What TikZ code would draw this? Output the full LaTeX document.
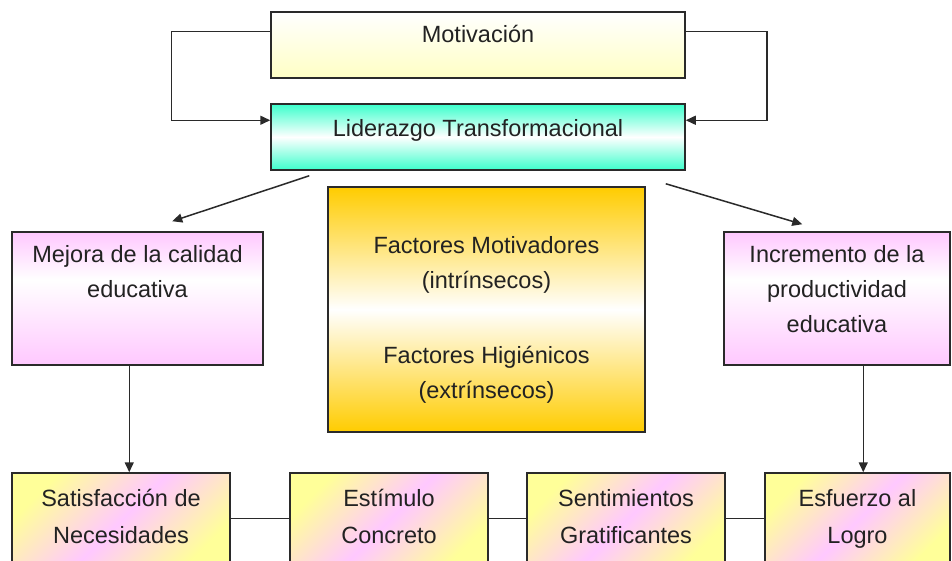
\documentclass[tikz,border=0pt]{standalone}
\usepackage{fontspec}
\setmainfont{Liberation Sans}
\usetikzlibrary{arrows.meta,calc}
\definecolor{lnc}{HTML}{2A2A2A}
\definecolor{txc}{HTML}{222222}
\definecolor{paley}{HTML}{FFFFC4}
\definecolor{aqua}{HTML}{3CFFCC}
\definecolor{pinkc}{HTML}{FFC8FF}
\definecolor{goldc}{HTML}{FFCC00}
\definecolor{yelc}{HTML}{FFFF99}
\pgfdeclareverticalshading{pinklow}{100bp}{color(0bp)=(pinkc); color(25bp)=(pinkc); color(57bp)=(white); color(75bp)=(pinkc); color(100bp)=(pinkc)}
\tikzset{
  box/.style={draw=lnc, line width=1.5pt, rectangle, inner sep=0pt},
  motbox/.style={box, top color=white, bottom color=paley},
  lidbox/.style={box, top color=aqua, bottom color=aqua, middle color=white},
  pinkbox/.style={box, shading=pinklow},
  goldbox/.style={box, top color=goldc, bottom color=goldc, middle color=white},
  diagbox/.style={box, top color=yelc, bottom color=yelc, middle color=pinkc, shading angle=45},
  txt/.style={text=txc, align=center, inner sep=0pt, anchor=base, font=\fontsize{23.5}{35}\selectfont},
  txtb/.style={txt, font=\fontsize{23.5}{37}\selectfont},
  conn/.style={draw=lnc, line width=1.5pt},
  arr/.style={conn, -{Triangle[length=10pt,width=9pt]}}
}
\begin{document}
\begin{tikzpicture}[x=1pt,y=-1pt]
\useasboundingbox (0,0) rectangle (952,560);
\clip (0,0) rectangle (952,560);
\fill[white] (0,0) rectangle (952,560);
% boxes
\node[motbox, minimum width=414pt, minimum height=66pt] (mot) at (478,45) {};
\node[lidbox, minimum width=414pt, minimum height=66pt] (lid) at (478,137) {};
\node[pinkbox, minimum width=251pt, minimum height=133pt] (mej) at (137.5,298.5) {};
\node[pinkbox, minimum width=226pt, minimum height=133pt] (inc) at (837,298.5) {};
\node[goldbox, minimum width=317pt, minimum height=245pt] (fac) at (486.5,309.5) {};
\node[diagbox, minimum width=218pt, minimum height=95pt] (sat) at (121,520.5) {};
\node[diagbox, minimum width=198pt, minimum height=95pt] (est) at (389,520.5) {};
\node[diagbox, minimum width=198pt, minimum height=95pt] (sen) at (626,520.5) {};
\node[diagbox, minimum width=185pt, minimum height=95pt] (esf) at (857.5,520.5) {};
% texts (base = baseline of last line)
\node[txt] (motT) at ($(mot.north)+(0,31)$) {Motivación};
\node[txt] (lidT) at ($(lid.north)+(0,33)$) {Liderazgo Transformacional};
\node[txt] (mejT) at ($(mej.north)+(0,66)$) {Mejora de la calidad\\educativa};
\node[txt] (incT) at ($(inc.north)+(0,101)$) {Incremento de la\\productividad\\educativa};
\node[txt] (facT) at ($(fac.north)+(0,212)$) {Factores Motivadores\\(intrínsecos)\\[40pt]Factores Higiénicos\\(extrínsecos)};
\node[txtb] (satT) at ($(sat.north)+(0,71)$) {Satisfacción de\\Necesidades};
\node[txtb] (estT) at ($(est.north)+(0,71)$) {Estímulo\\Concreto};
\node[txtb] (senT) at ($(sen.north)+(0,71)$) {Sentimientos\\Gratificantes};
\node[txtb] (esfT) at ($(esf.north)+(0,71)$) {Esfuerzo al\\Logro};
% feedback loops
\draw[arr] ($(mot.north west)+(0,20)$) -- ++(-99,0) |- ($(lid.north west)+(0,17)$);
\draw[arr] ($(mot.north east)+(0,20)$) -- ++(81,0) |- ($(lid.north east)+(0,17)$);
% diagonal arrows
\draw[arr] ($(lid.south west)+(39,5)$) -- ($(mej.north west)+(161,-10)$);
\draw[arr] ($(lid.south east)+(-20,13)$) -- ($(inc.north west)+(79,-7)$);
% vertical arrows
\draw[arr] ($(mej.south west)+(118,0)$) -- ($(sat.north west)+(118,0)$);
\draw[arr] ($(inc.south west)+(140,0)$) -- ($(esf.north west)+(99,0)$);
% bottom links
\draw[conn] ($(sat.north east)+(0,46)$) -- ($(est.north west)+(0,46)$);
\draw[conn] ($(est.north east)+(0,46)$) -- ($(sen.north west)+(0,46)$);
\draw[conn] ($(sen.north east)+(0,46)$) -- ($(esf.north west)+(0,46)$);
\end{tikzpicture}
\end{document}
